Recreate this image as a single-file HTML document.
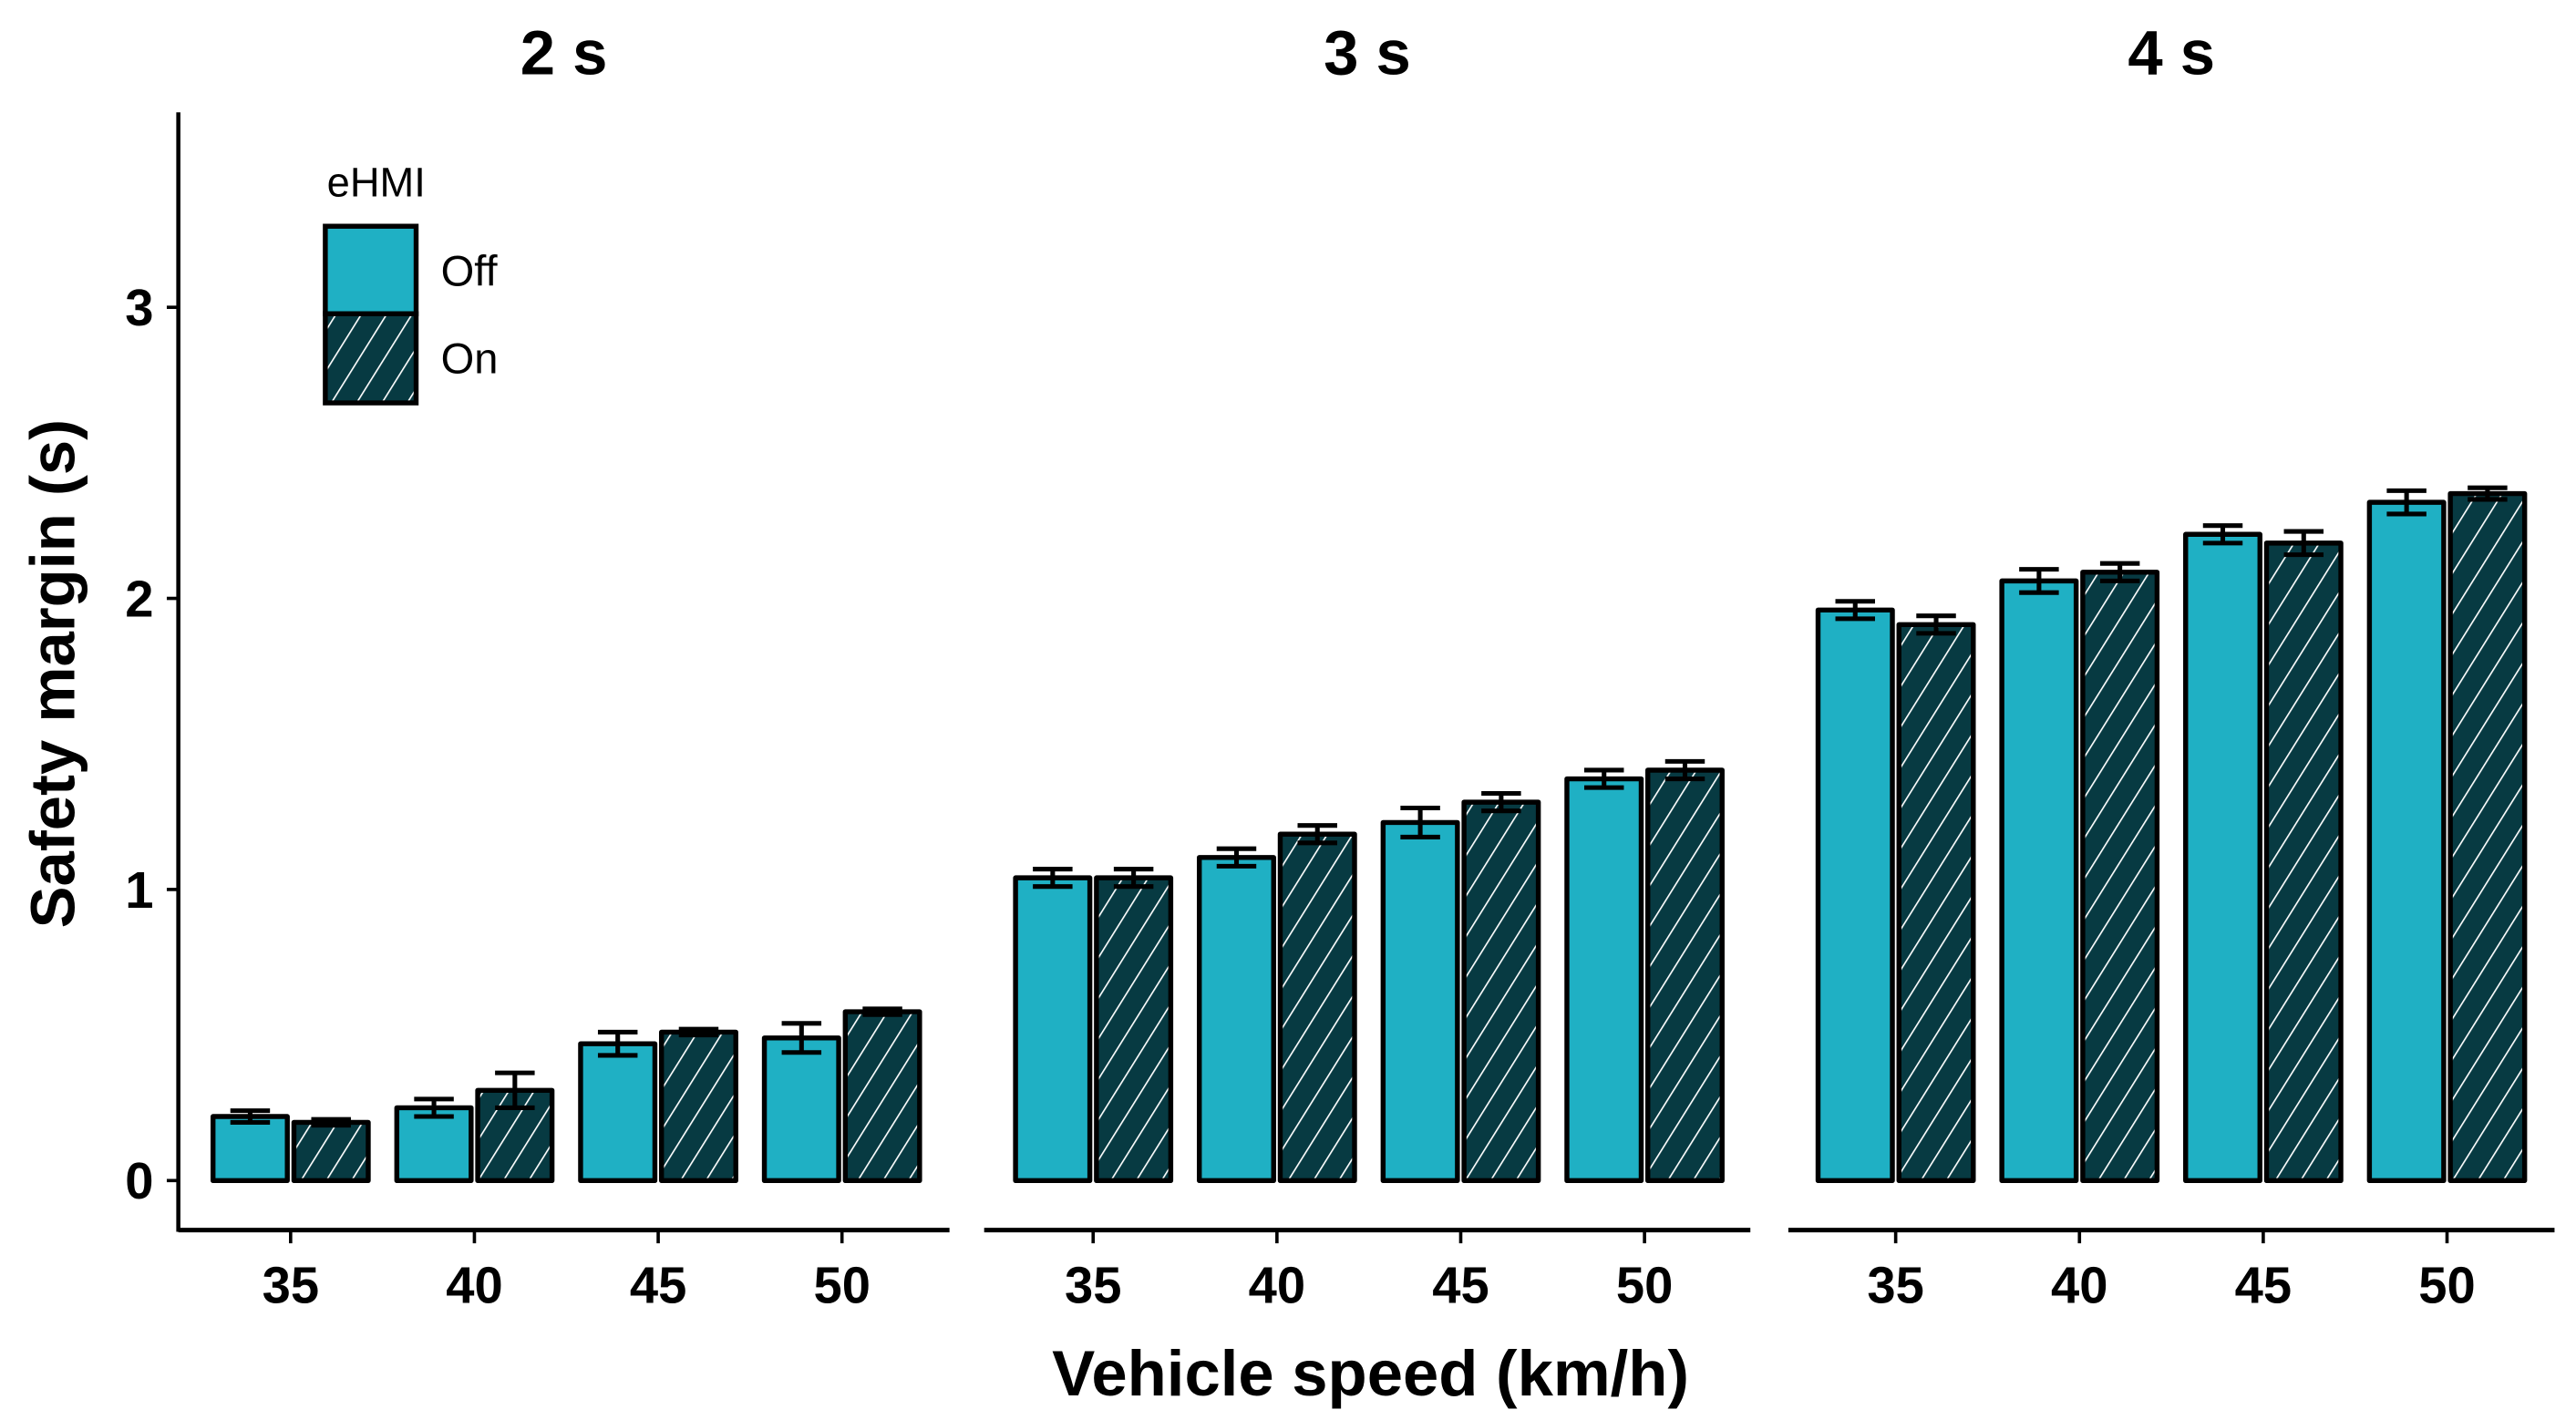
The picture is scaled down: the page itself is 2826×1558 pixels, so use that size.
<!DOCTYPE html>
<html><head><meta charset="utf-8"><style>
html,body{margin:0;padding:0;background:#fff}
svg{display:block}
text{font-family:"Liberation Sans",Arial,sans-serif}
</style></head><body>
<svg id="chart" width="2826" height="1558" viewBox="0 0 1560 860" xmlns="http://www.w3.org/2000/svg">
<defs>
<pattern id="hatch" patternUnits="userSpaceOnUse" width="13" height="13" patternTransform="rotate(32)">
<rect width="13" height="13" fill="#073a42"/>
<line x1="0" y1="0" x2="0" y2="13" stroke="#fff" stroke-width="1.8"/>
</pattern>
</defs>
<g id="plot"></g>
</svg>
<script>
const panels = ["2 s","3 s","4 s"];
const speeds = ["35","40","45","50"];
const offMeans = [[0.22,0.25,0.47,0.49],[1.04,1.11,1.23,1.38],[1.96,2.06,2.22,2.33]];
const offErr = [[0.02,0.03,0.04,0.05],[0.03,0.03,0.05,0.03],[0.03,0.04,0.03,0.04]];
const onMeans = [[0.20,0.31,0.51,0.58],[1.04,1.19,1.30,1.41],[1.91,2.09,2.19,2.36]];
const onErr = [[0.01,0.06,0.01,0.01],[0.03,0.03,0.03,0.03],[0.03,0.03,0.04,0.02]];
const yTicks = [0,1,2,3];

const NS="http://www.w3.org/2000/svg";
const g=document.getElementById('plot');
function mk(tag,attrs,parent){const e=document.createElementNS(NS,tag);for(const k in attrs)e.setAttribute(k,attrs[k]);(parent||g).appendChild(e);return e;}
const y0=715, yUnit=176.3;
function yScale(v){return y0-v*yUnit;}
const panelStart=[108,596,1083], panelEnd=[575,1060,1547];
const firstTick=[176,662,1148], tickStep=111.3;
function xScale(p,i){return firstTick[p]+i*tickStep;}
const barW=45, gap=4;

let e=mk('line',{x1:108,y1:68,x2:108,y2:746,stroke:'#000','stroke-width':2.5});

yTicks.forEach(t=>{
  const y=yScale(t);
  let l=mk('line',{x1:101,y1:y,x2:108,y2:y,stroke:'#000','stroke-width':2});
  
  let tx=mk('text',{x:93,y:y+11,'text-anchor':'end','font-size':31,'font-weight':'bold'});
  tx.textContent=t;
  
});
let yt=mk('text',{x:0,y:0,transform:'translate(45,408) rotate(-90)','text-anchor':'middle','font-size':38,'font-weight':'bold'});
yt.textContent='Safety margin (s)';


panels.forEach((pn,p)=>{
  let ax=mk('line',{x1:panelStart[p],y1:745,x2:panelEnd[p],y2:745,stroke:'#000','stroke-width':2.8});
  
  let tt=mk('text',{x:(panelStart[p]+panelEnd[p])/2,y:45,'text-anchor':'middle','font-size':38,'font-weight':'bold'});
  tt.textContent=pn;
  
  speeds.forEach((s,i)=>{
    const cx=xScale(p,i);
    let tk=mk('line',{x1:cx,y1:745,x2:cx,y2:753,stroke:'#000','stroke-width':2});
    
    let tl=mk('text',{x:cx,y:789,'text-anchor':'middle','font-size':31,'font-weight':'bold'});
    tl.textContent=s;
    
    [[offMeans,offErr,'#1fb0c4','off',-1],[onMeans,onErr,'url(#hatch)','on',1]].forEach(([m,er,fill,nm,side])=>{
      const v=m[p][i], x=side<0?cx-gap/2-barW:cx+gap/2;
      let r=mk('rect',{x:x,y:yScale(v),width:barW,height:y0-yScale(v),fill:fill,stroke:'#000','stroke-width':3,'stroke-linejoin':'round'});
      
      
      const bx=x+barW/2, hi=yScale(v+er[p][i]), lo=yScale(v-er[p][i]);
      const eg=mk('g',{stroke:'#000','stroke-width':2.8});
      
      
      mk('line',{x1:bx,y1:hi,x2:bx,y2:lo},eg);
      mk('line',{x1:bx-12,y1:hi,x2:bx+12,y2:hi},eg);
      mk('line',{x1:bx-12,y1:lo,x2:bx+12,y2:lo},eg);
    });
  });
});
let xt=mk('text',{x:830,y:845,'text-anchor':'middle','font-size':39,'font-weight':'bold'});
xt.textContent='Vehicle speed (km/h)';


const lg=mk('g',{});

let lt=mk('text',{x:198,y:119,'font-size':25},lg);lt.textContent='eHMI';

let k1=mk('rect',{x:197,y:137,width:55,height:53,fill:'#1fb0c4',stroke:'#000','stroke-width':3},lg);

let k2=mk('rect',{x:197,y:190,width:55,height:54,fill:'url(#hatch)',stroke:'#000','stroke-width':3},lg);

let l1=mk('text',{x:267,y:173,'font-size':26},lg);l1.textContent='Off';

let l2=mk('text',{x:267,y:226,'font-size':26},lg);l2.textContent='On';

</script>
</body></html>
